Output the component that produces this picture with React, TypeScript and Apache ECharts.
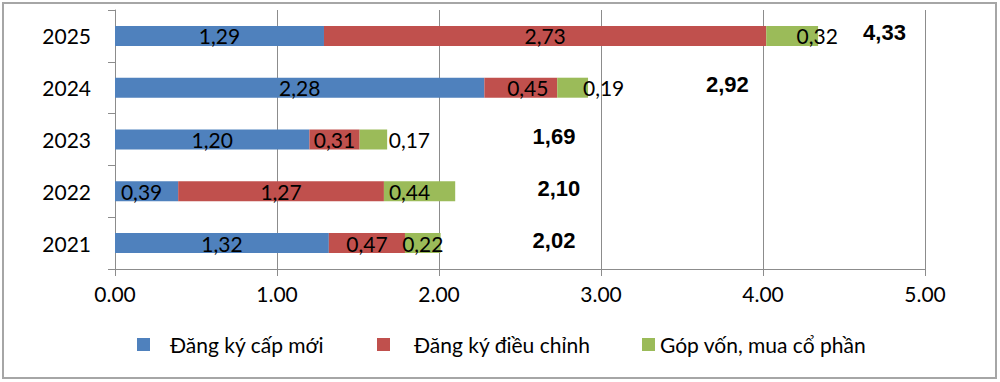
import React, { useEffect, useRef } from 'react';
import * as echarts from 'echarts';

const categories = ['2021', '2022', '2023', '2024', '2025'];
const seriesNames = ['Đăng ký cấp mới', 'Đăng ký điều chỉnh', 'Góp vốn, mua cổ phần'];
const newRegistration = [1.32, 0.39, 1.2, 2.28, 1.29];
const adjustedRegistration = [0.47, 1.27, 0.31, 0.45, 2.73];
const capitalContribution = [0.22, 0.44, 0.17, 0.19, 0.32];
const totals = [2.02, 2.1, 1.69, 2.92, 4.33];
// x (in axis units) where each total label is centred
const totalLabelX = [2.71, 2.74, 2.71, 3.78, 4.75];

const colors = ['#4F81BD', '#C0504D', '#9BBB59'];
const FONT = 'Lato';
// horizontal nudges of in-bar labels (px), per category
const labelShift = [
  [0, -5, 0, 0, 0],
  [0, 0, 0, 7, 0],
  [0, -10, 36, 31, 25],
];

const fmt = (v: number) => v.toFixed(2).replace('.', ',');

export default function App() {
  const ref = useRef<HTMLDivElement>(null);
  useEffect(() => {
    if (!ref.current) return;
    const chart = echarts.init(ref.current, null, { renderer: 'svg' });
    const values = [newRegistration, adjustedRegistration, capitalContribution];
    const barSeries = values.map((arr, si) => ({
      name: seriesNames[si],
      type: 'bar',
      stack: 'total',
      barWidth: 20,
      itemStyle: { color: colors[si] },
      data: arr.map((v, i) => ({
        value: v,
        label: { offset: [labelShift[si][i], 0] },
      })),
      label: {
        show: true,
        position: 'inside',
        color: '#000',
        textBorderWidth: 0,
        fontFamily: FONT,
        fontSize: 21,
        formatter: (p: any) => fmt(p.value),
      },
    }));
    const legendLefts = [132, 372, 637];
    const legendPads = [15, 19, 0];
    chart.setOption({
      animation: false,
      grid: { left: 115, right: 75, top: 10, bottom: 113 },
      legend: seriesNames.map((n, i) => ({
        data: [n],
        left: legendLefts[i],
        top: 329,
        icon: 'rect',
        itemWidth: 13,
        itemHeight: 13,
        textStyle: {
          fontFamily: FONT,
          fontSize: 21,
          color: '#000',
          padding: [0, 0, 0, legendPads[i]],
        },
      })),
      xAxis: {
        type: 'value',
        min: 0,
        max: 5,
        interval: 1,
        axisLine: { show: true, lineStyle: { color: '#8c8c8c' } },
        axisTick: { show: true, length: 7, lineStyle: { color: '#8c8c8c' } },
        splitLine: { show: true, lineStyle: { color: '#8c8c8c' } },
        axisLabel: {
          color: '#000',
          fontFamily: FONT,
          fontSize: 21,
          margin: 14,
          formatter: (v: number) => v.toFixed(2),
        },
      },
      yAxis: {
        type: 'category',
        data: categories,
        axisLine: { show: true, lineStyle: { color: '#8c8c8c' } },
        axisTick: { show: true, length: 7, lineStyle: { color: '#8c8c8c' } },
        axisLabel: { color: '#000', fontFamily: FONT, fontSize: 21, margin: 24 },
      },
      series: [
        ...barSeries,
        {
          name: 'total',
          type: 'scatter',
          symbolSize: 1,
          itemStyle: { color: 'rgba(0,0,0,0)', opacity: 1 },
          data: totalLabelX.map((x, i) => [x, categories[i], totals[i]]),
          label: {
            show: true,
            position: 'inside',
            offset: [0, -3],
            color: '#000',
            opacity: 1,
            textBorderWidth: 0,
            fontWeight: 'bold',
            fontFamily: 'Liberation Sans',
            fontSize: 22,
            formatter: (p: any) => fmt(p.value[2]),
          },
        },
      ],
      graphic: [
        {
          type: 'rect',
          shape: { x: 3, y: 3, width: 993, height: 375 },
          style: { fill: 'none', stroke: '#a6a6a6', lineWidth: 2 },
          silent: true,
        },
      ],
    });
    return () => chart.dispose();
  }, []);
  return (
    <div
      ref={ref}
      style={{ position: 'fixed', left: 0, top: 0, width: 1000, height: 382, background: '#fff' }}
    />
  );
}
